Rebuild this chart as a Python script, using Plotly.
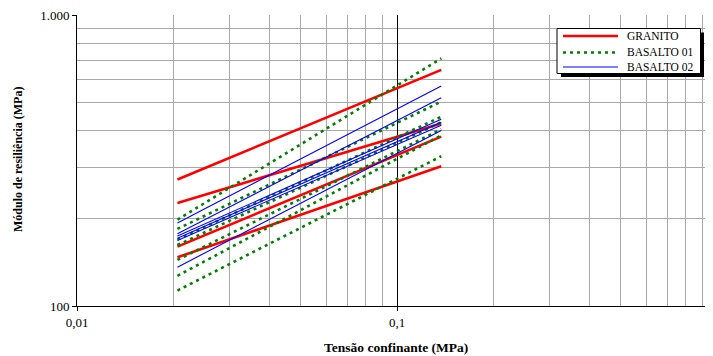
import plotly.graph_objects as go

# Confining stress range of each fitted curve (MPa)
tensao = [0.0206, 0.1375]

# Resilient modulus (MPa) at the first and last confining stress, one entry per curve
granito_ini = [272, 226, 160, 147]
granito_fim = [648, 424, 382, 302]

basalto01_ini = [198, 184, 169, 162, 144, 127, 113]
basalto01_fim = [709, 504, 447, 428, 405, 386, 327]

basalto02_ini = [193, 177, 174, 171, 168, 136]
basalto02_fim = [570, 520, 438, 428, 418, 401]

series = [
    ("GRANITO", granito_ini, granito_fim, dict(color="#ff0000", width=2.6)),
    ("BASALTO 01", basalto01_ini, basalto01_fim, dict(color="#008000", width=2.6, dash="3px,4px")),
    ("BASALTO 02", basalto02_ini, basalto02_fim, dict(color="#0000ff", width=1.1)),
]

x_ticks = [0.01, 0.1]
x_ticktext = ["0,01", "0,1"]
y_ticks = [100, 1000]
y_ticktext = ["100", "1.000"]
x_minor = [0.02, 0.03, 0.04, 0.05, 0.06, 0.07, 0.08, 0.09,
           0.2, 0.3, 0.4, 0.5, 0.6, 0.7, 0.8, 0.9]
y_minor = [200, 300, 400, 500, 600, 700, 800, 900]
x_title = "Tensão confinante (MPa)"
y_title = "Módulo de resiliência (MPa)"

# The page body adds an 8px offset, so the figure is sized to end at the window edge
OFF = 8
W, H = 713 - OFF, 356 - OFF
L, T = 77 - OFF, 15 - OFF
PW = W - L
PH = (306 - OFF) - T
R, B = 0, H - T - PH

fig = go.Figure()
for name, ini, fim, line in series:
    for a, b in zip(ini, fim):
        fig.add_trace(go.Scatter(x=tensao, y=[a, b], mode="lines", line=line,
                                 name=name, showlegend=False, hoverinfo="skip"))

serif = "Liberation Serif"
grid_gray = "#a8a8a8"

fig.update_layout(
    width=W, height=H,
    margin=dict(l=L, r=R, t=T, b=B, autoexpand=False),
    paper_bgcolor="white", plot_bgcolor="white",
    font=dict(family=serif, size=12, color="black"),
    showlegend=False,
    xaxis=dict(
        type="log", range=[-2, -2 + PW / 320.0], automargin=False,
        tickvals=x_ticks, ticktext=x_ticktext,
        tickfont=dict(size=13), ticklabeloverflow="allow",
        showgrid=True, gridcolor="black", gridwidth=1,
        showline=True, linecolor="black", linewidth=1,
        ticks="outside", ticklen=4, tickcolor="black",
        minor=dict(tickvals=x_minor, showgrid=True, gridcolor=grid_gray, gridwidth=1, ticks=""),
        zeroline=False,
    ),
    yaxis=dict(
        type="log", range=[2, 3], automargin=False,
        tickvals=y_ticks, ticktext=y_ticktext,
        tickfont=dict(size=13), ticklabeloverflow="allow",
        showgrid=True, gridcolor=grid_gray, gridwidth=1,
        showline=True, linecolor="black", linewidth=1,
        ticks="outside", ticklen=4, tickcolor="black",
        minor=dict(tickvals=y_minor, showgrid=True, gridcolor=grid_gray, gridwidth=1, ticks=""),
        zeroline=False,
    ),
)

def px(xp):
    return (xp - OFF - L) / PW

def py(yp):
    return (T + PH - (yp - OFF)) / PH

# Axis titles
fig.add_annotation(xref="paper", yref="paper", x=px(396), y=py(347),
                   text="<b>%s</b>" % x_title, showarrow=False,
                   xanchor="center", yanchor="middle", font=dict(size=13.5))
fig.add_annotation(xref="paper", yref="paper", x=px(18), y=py(160),
                   text="<b>%s</b>" % y_title, showarrow=False, textangle=-90,
                   xanchor="center", yanchor="middle", font=dict(size=12))

# Hand-drawn legend box with shadow
fig.add_shape(type="rect", xref="paper", yref="paper",
              x0=px(561), x1=px(704), y0=py(32.5), y1=py(77),
              fillcolor="black", line=dict(width=0))
fig.add_shape(type="rect", xref="paper", yref="paper",
              x0=px(557), x1=px(700.5), y0=py(28.5), y1=py(73.5),
              fillcolor="white", line=dict(color="black", width=1))
legend_y = [36, 52.5, 67]
for (name, ini, fim, line), yy in zip(series, legend_y):
    fig.add_shape(type="line", xref="paper", yref="paper",
                  x0=px(563), x1=px(618), y0=py(yy), y1=py(yy), line=line)
    fig.add_annotation(xref="paper", yref="paper", x=px(625), y=py(yy),
                       text=name, showarrow=False, xanchor="left", yanchor="middle",
                       font=dict(family=serif, size=11.5, color="black"))

fig.write_html("out.html")
